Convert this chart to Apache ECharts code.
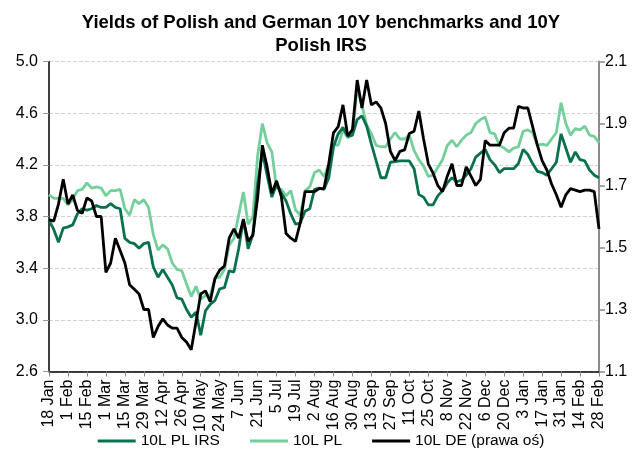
<!DOCTYPE html>
<html><head><meta charset="utf-8">
<script src="https://cdn.jsdelivr.net/npm/echarts@6/dist/echarts.min.js"></script>
<style>html,body{margin:0;padding:0;background:#fff}#c{width:642px;height:459px}</style>
</head><body><div id="c"></div>
<script>
const categories = [
"18 Jan","21 Jan","25 Jan","28 Jan",
"1 Feb","4 Feb","8 Feb","11 Feb","15 Feb","18 Feb","22 Feb","25 Feb",
"1 Mar","4 Mar","8 Mar","11 Mar","15 Mar","18 Mar","22 Mar","25 Mar","29 Mar",
"1 Apr","5 Apr","8 Apr","12 Apr","15 Apr","19 Apr","22 Apr","26 Apr","29 Apr",
"3 May","6 May","10 May","13 May","17 May","20 May","24 May","27 May","31 May",
"3 Jun","7 Jun","10 Jun","14 Jun","17 Jun","21 Jun","24 Jun","28 Jun",
"1 Jul","5 Jul","8 Jul","12 Jul","15 Jul","19 Jul","22 Jul","26 Jul","29 Jul",
"2 Aug","5 Aug","9 Aug","12 Aug","16 Aug","19 Aug","23 Aug","26 Aug","30 Aug",
"2 Sep","6 Sep","9 Sep","13 Sep","16 Sep","20 Sep","23 Sep","27 Sep","30 Sep",
"4 Oct","7 Oct","11 Oct","14 Oct","18 Oct","21 Oct","25 Oct","28 Oct",
"1 Nov","4 Nov","8 Nov","11 Nov","15 Nov","18 Nov","22 Nov","25 Nov","29 Nov",
"2 Dec","6 Dec","9 Dec","13 Dec","16 Dec","20 Dec","23 Dec","27 Dec","30 Dec",
"3 Jan","6 Jan","10 Jan","13 Jan","17 Jan","20 Jan","24 Jan","27 Jan","31 Jan",
"3 Feb","7 Feb","10 Feb","14 Feb","17 Feb","21 Feb","24 Feb","28 Feb"];

const irs = [
3.77,3.70,3.60,3.71,3.72,3.735,3.82,3.86,3.85,3.86,
3.885,3.87,3.87,3.90,3.87,3.86,3.63,3.60,3.59,3.555,
3.59,3.60,3.41,3.33,3.39,3.33,3.27,3.17,3.16,3.08,
3.02,3.06,2.88,3.07,3.12,3.15,3.24,3.25,3.38,3.37,
3.55,3.78,3.55,3.66,4.05,4.30,4.12,3.95,4.05,3.98,
3.92,3.82,3.74,3.75,3.84,3.86,4.01,4.02,4.01,4.10,
4.34,4.44,4.49,4.42,4.43,4.55,4.58,4.50,4.36,4.23,
4.10,4.10,4.22,4.225,4.23,4.23,4.23,4.17,3.97,3.95,
3.89,3.89,3.96,4.00,4.06,4.10,4.07,4.08,4.12,4.17,
4.26,4.29,4.32,4.24,4.20,4.14,4.17,4.17,4.17,4.21,
4.32,4.28,4.21,4.15,4.14,4.12,4.17,4.22,4.44,4.33,
4.22,4.30,4.24,4.23,4.16,4.12,4.10];

const pl = [
3.97,3.94,3.94,3.94,3.89,3.93,4.00,4.01,4.06,4.02,
4.03,4.02,3.96,4.00,4.00,4.01,3.86,3.81,3.93,3.90,
3.93,3.87,3.66,3.54,3.58,3.55,3.44,3.39,3.38,3.28,
3.18,3.26,3.16,3.19,3.19,3.32,3.33,3.39,3.58,3.63,
3.81,3.99,3.74,3.80,4.27,4.52,4.37,4.30,4.02,4.01,
3.96,4.00,3.85,3.81,4.00,4.03,4.14,4.16,4.11,4.20,
4.36,4.35,4.47,4.41,4.43,4.80,4.66,4.51,4.44,4.35,
4.34,4.34,4.40,4.45,4.40,4.40,4.43,4.31,4.24,4.19,
4.11,4.12,4.18,4.24,4.35,4.39,4.34,4.39,4.43,4.45,
4.52,4.55,4.57,4.45,4.44,4.35,4.33,4.30,4.33,4.34,
4.46,4.47,4.45,4.35,4.36,4.35,4.40,4.45,4.68,4.52,
4.43,4.48,4.47,4.50,4.43,4.42,4.37];

const de = [
1.59,1.585,1.64,1.72,1.64,1.67,1.62,1.61,1.66,1.65,
1.60,1.60,1.42,1.45,1.53,1.49,1.45,1.38,1.365,1.35,
1.30,1.30,1.21,1.245,1.27,1.25,1.24,1.24,1.21,1.195,
1.17,1.26,1.35,1.36,1.325,1.40,1.427,1.44,1.53,1.56,
1.53,1.59,1.52,1.54,1.66,1.83,1.76,1.675,1.715,1.664,
1.545,1.53,1.52,1.58,1.68,1.68,1.68,1.69,1.69,1.77,
1.87,1.89,1.96,1.86,1.88,2.04,1.95,2.04,1.96,1.97,
1.95,1.90,1.81,1.78,1.81,1.815,1.868,1.875,1.94,1.85,
1.77,1.74,1.70,1.68,1.73,1.77,1.70,1.70,1.76,1.73,
1.70,1.72,1.845,1.83,1.83,1.83,1.87,1.885,1.885,1.955,
1.95,1.95,1.89,1.83,1.78,1.75,1.705,1.67,1.63,1.67,
1.69,1.685,1.68,1.685,1.685,1.68,1.56];

const leftAxis = {min: 2.6, max: 5.0, step: 0.4};
const rightAxis = {min: 1.1, max: 2.1, step: 0.2};
const seriesNames = ["10L PL IRS", "10L PL", "10L DE (prawa oś)"];
const colors = ['#0b7050', '#74cf9b', '#000000'];

const FONT = '"Liberation Sans", Arial, sans-serif';
const chart = echarts.init(document.getElementById('c'));
chart.setOption({
  animation: false,
  backgroundColor: '#fff',
  title: {
    text: 'Yields of Polish and German 10Y benchmarks and 10Y\nPolish IRS',
    left: 'center', top: 6,
    padding: [5, 5, 5, 23],
    textStyle: {fontFamily: FONT, fontSize: 18.5, fontWeight: 'bold', color: '#000', lineHeight: 23}
  },
  grid: {left: 49, right: 43, top: 61.5, bottom: 87.5, containLabel: false},
  legend: {
    top: 428, left: 'center',
    icon: 'rect',
    itemWidth: 38, itemHeight: 3, itemGap: 30,
    textStyle: {fontFamily: FONT, fontSize: 15.5, color: '#000'},
    data: seriesNames
  },
  xAxis: {
    type: 'category', data: categories, boundaryGap: false,
    axisLine: {lineStyle: {color: '#000', width: 1.5}},
    axisTick: {interval: 3, length: 5, lineStyle: {color: '#888'}},
    axisLabel: {interval: 3, rotate: 90, margin: 8, fontFamily: FONT, fontSize: 16, color: '#000'},
    splitLine: {show: false}
  },
  yAxis: [{
    type: 'value', min: leftAxis.min, max: leftAxis.max, interval: leftAxis.step,
    axisLine: {show: true, lineStyle: {color: '#000', width: 1.5}},
    axisTick: {show: true, length: 6, lineStyle: {color: '#999'}},
    axisLabel: {margin: 11, fontFamily: FONT, fontSize: 16, color: '#000', formatter: v => v.toFixed(1)},
    splitLine: {show: true, lineStyle: {color: '#d3d3d3', type: [4, 2], width: 1}}
  }, {
    type: 'value', min: rightAxis.min, max: rightAxis.max, interval: rightAxis.step, position: 'right',
    axisLine: {show: true, lineStyle: {color: '#8c8c8c', width: 2}},
    axisTick: {show: true, length: 6, lineStyle: {color: '#8c8c8c', width: 1.5}},
    axisLabel: {margin: 6, fontFamily: FONT, fontSize: 16, color: '#000', formatter: v => v.toFixed(1)},
    splitLine: {show: false}
  }],
  series: [
    {name: seriesNames[0], type: 'line', data: irs, yAxisIndex: 0, symbol: 'none', z: 3,
     lineStyle: {color: colors[0], width: 2.8}, itemStyle: {color: colors[0]}},
    {name: seriesNames[1], type: 'line', data: pl, yAxisIndex: 0, symbol: 'none', z: 2,
     lineStyle: {color: colors[1], width: 2.8}, itemStyle: {color: colors[1]}},
    {name: seriesNames[2], type: 'line', data: de, yAxisIndex: 1, symbol: 'none', z: 4,
     lineStyle: {color: colors[2], width: 2.8}, itemStyle: {color: colors[2]}}
  ]
});
</script>
</body></html>
